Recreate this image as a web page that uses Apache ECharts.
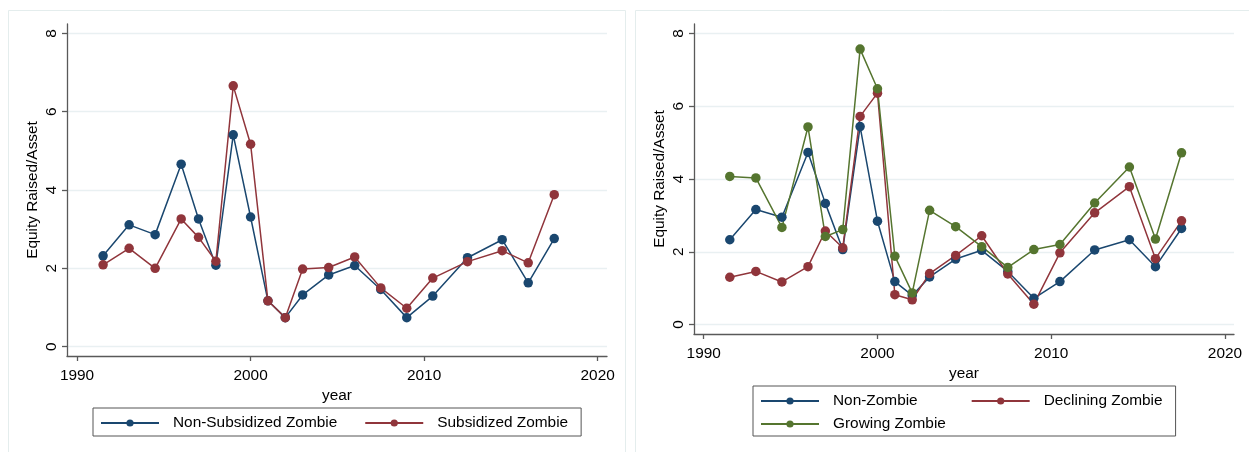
<!DOCTYPE html>
<html>
<head>
<meta charset="utf-8">
<script src="https://cdn.jsdelivr.net/npm/echarts@6/dist/echarts.min.js"></script>
<style>
  html, body { margin: 0; padding: 0; background: #ffffff; }
  #chart { width: 1249px; height: 452px; }
</style>
</head>
<body>
<div id="chart"></div>
<script>
// Period midpoints (x positions of the observations)
const years = [1991.5, 1993, 1994.5, 1996, 1997, 1998, 1999, 2000, 2001, 2002,
               2003, 2004.5, 2006, 2007.5, 2009, 2010.5, 2012.5, 2014.5, 2016, 2017.5];

// Left panel: subsidized vs non-subsidized zombies
const nonSubsidized = [2.32, 3.11, 2.86, 4.66, 3.26, 2.08, 5.41, 3.31, 1.17, 0.74,
                       1.32, 1.83, 2.07, 1.46, 0.74, 1.29, 2.27, 2.73, 1.63, 2.76];
const subsidized    = [2.09, 2.51, 2.00, 3.26, 2.79, 2.18, 6.66, 5.17, 1.17, 0.74,
                       1.98, 2.02, 2.29, 1.50, 0.98, 1.75, 2.17, 2.45, 2.14, 3.88];

// Right panel: non-zombie, declining and growing zombies
const nonZombie = [2.33, 3.16, 2.95, 4.73, 3.33, 2.06, 5.44, 2.84, 1.18, 0.80,
                   1.31, 1.80, 2.04, 1.46, 0.72, 1.18, 2.05, 2.33, 1.59, 2.64];
const declining = [1.30, 1.46, 1.17, 1.59, 2.57, 2.11, 5.72, 6.36, 0.82, 0.68,
                   1.40, 1.90, 2.44, 1.39, 0.56, 1.97, 3.07, 3.79, 1.81, 2.85];
const growing   = [4.07, 4.03, 2.67, 5.43, 2.42, 2.61, 7.57, 6.48, 1.88, 0.87,
                   3.14, 2.69, 2.14, 1.57, 2.06, 2.20, 3.34, 4.33, 2.35, 4.72];

// Tick labels
const xTicks = [1990, 2000, 2010, 2020];
const yTicks = [0, 2, 4, 6, 8];

const NAVY = '#1a476f', MAROON = '#90353b', GREEN = '#55752f';
const FONT = 'Liberation Sans, Arial, sans-serif';
const FS = 15.4;
const AXIS_COLOR = '#595959';

function pairs(ys) { return years.map((x, i) => [x, ys[i]]); }

function lineSeries(name, data, color, idx) {
  return {
    name: name, type: 'line', data: pairs(data),
    xAxisIndex: idx, yAxisIndex: idx,
    symbol: 'circle', symbolSize: 9.5,
    lineStyle: { color: color, width: 1.5 },
    itemStyle: { color: color, borderWidth: 0 },
    emphasis: { disabled: true },
    silent: true
  };
}

function xAxisOf(idx, min, max) {
  return {
    type: 'value', gridIndex: idx, min: min, max: max,
    name: 'year', nameLocation: 'middle', nameGap: 26,
    nameTextStyle: { fontFamily: FONT, fontSize: FS, color: '#000' },
    axisLine: { show: true, onZero: false, lineStyle: { color: AXIS_COLOR, width: 1.3 } },
    axisTick: { show: true, length: 5, customValues: xTicks, lineStyle: { color: AXIS_COLOR, width: 1.3 } },
    axisLabel: { customValues: xTicks, margin: 12, formatter: v => String(v),
                 fontFamily: FONT, fontSize: FS, color: '#000' },
    splitLine: { show: false }
  };
}

function yAxisOf(idx, min, max) {
  return {
    type: 'value', gridIndex: idx, min: min, max: max,
    name: 'Equity Raised/Asset', nameLocation: 'middle', nameGap: 27,
    nameTextStyle: { fontFamily: FONT, fontSize: FS, color: '#000' },
    axisLine: { show: true, onZero: false, lineStyle: { color: AXIS_COLOR, width: 1.3 } },
    axisTick: { show: true, length: 5, customValues: yTicks, lineStyle: { color: AXIS_COLOR, width: 1.3 } },
    axisLabel: { customValues: yTicks, rotate: 90, margin: 8, formatter: v => String(v),
                 fontFamily: FONT, fontSize: FS, color: '#000' },
    splitLine: { show: true, lineStyle: { color: '#e9f0f2', width: 1.3 } }
  };
}

const legendText = { fontFamily: FONT, fontSize: FS, color: '#000', lineHeight: 18, padding: [0, 0, 0, 9] };

const option = {
  animation: false,
  backgroundColor: '#ffffff',
  graphic: [
    { type: 'rect', left: 6, top: 8, shape: { width: 617, height: 460 },
      style: { fill: 'none', stroke: '#e4eded', lineWidth: 1 }, silent: true },
    { type: 'rect', left: 633, top: 8, shape: { width: 640, height: 460 },
      style: { fill: 'none', stroke: '#e4eded', lineWidth: 1 }, silent: true }
  ],
  grid: [
    { left: 67, top: 24, width: 540, height: 332 },
    { left: 694, top: 24, width: 540, height: 310 }
  ],
  xAxis: [ xAxisOf(0, 1989.42, 2020.54), xAxisOf(1, 1989.44, 2020.52) ],
  yAxis: [ yAxisOf(0, -0.24, 8.24), yAxisOf(1, -0.26, 8.26) ],
  legend: [
    {
      data: ['Non-Subsidized Zombie', 'Subsidized Zombie'],
      left: 93, top: 408, orient: 'horizontal',
      itemWidth: 58, itemHeight: 9, itemGap: 27,
      padding: [6, 13, 4, 7],
      borderColor: '#555', borderWidth: 1,
      textStyle: legendText, selectedMode: false
    },
    {
      data: ['Non-Zombie', 'Declining Zombie'],
      left: 753, top: 386, orient: 'horizontal',
      itemWidth: 58, itemHeight: 9, itemGap: 53,
      padding: [6, 13, 26, 7],
      borderColor: '#555', borderWidth: 1,
      textStyle: legendText, selectedMode: false
    },
    {
      data: ['Growing Zombie'],
      left: 760, top: 415, orient: 'horizontal',
      itemWidth: 58, itemHeight: 9,
      padding: 0,
      textStyle: legendText, selectedMode: false
    }
  ],
  series: [
    lineSeries('Non-Subsidized Zombie', nonSubsidized, NAVY, 0),
    lineSeries('Subsidized Zombie', subsidized, MAROON, 0),
    lineSeries('Non-Zombie', nonZombie, NAVY, 1),
    lineSeries('Declining Zombie', declining, MAROON, 1),
    lineSeries('Growing Zombie', growing, GREEN, 1)
  ]
};

const chart = echarts.init(document.getElementById('chart'), null, { renderer: 'canvas' });
chart.setOption(option);
</script>
</body>
</html>
